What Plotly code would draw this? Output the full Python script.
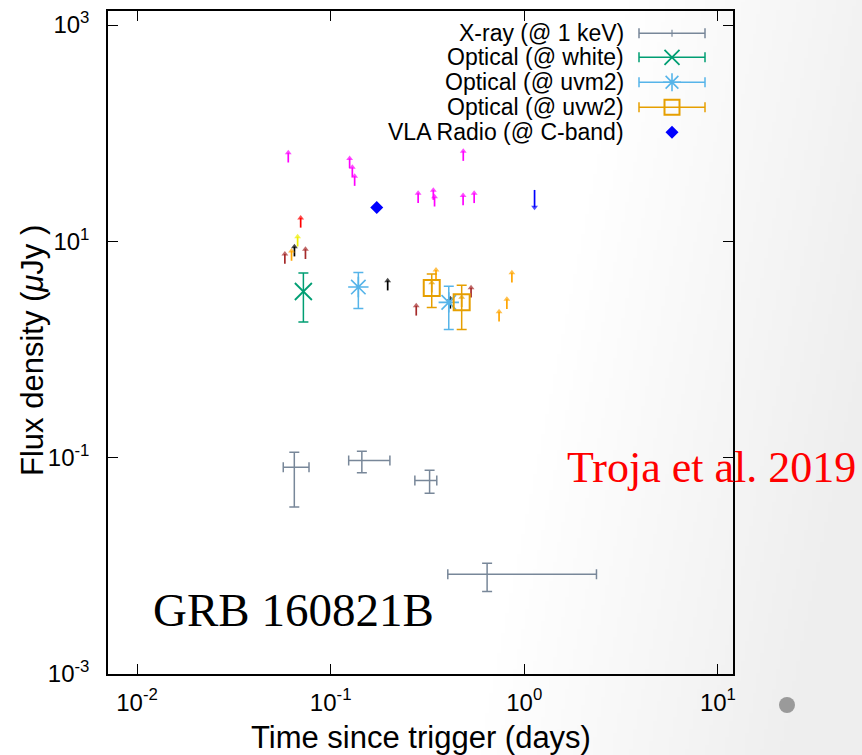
import base64, struct, zlib
import numpy as np
import plotly.graph_objects as go

# ---------------- data ----------------
xray_t    = [0.0649, 0.1449, 0.3243, 0.6427]
xray_t_lo = [0.0569, 0.1239, 0.2722, 0.4027]
xray_t_hi = [0.0773, 0.2023, 0.3533, 2.36]
xray_f    = [0.0817, 0.0942, 0.0615, 0.00835]
xray_f_lo = [0.0350, 0.0726, 0.0470, 0.00578]
xray_f_hi = [0.1124, 0.1148, 0.0767, 0.01055]

white_t, white_f, white_lo, white_hi = [0.0723], [3.44], [1.80], [5.09]
uvm2_t, uvm2_f, uvm2_lo, uvm2_hi = [0.139, 0.4074], [3.78, 2.73], [2.39, 1.53], [5.16, 3.84]
uvw2_t, uvw2_f, uvw2_lo, uvw2_hi = [0.3327, 0.475], [3.70, 2.73], [2.45, 1.53], [4.99, 3.92]

radio_t, radio_f = [0.173], [20.6]
radio_ul_t, radio_ul_f = [1.13], [29.9]

# other-band lower limits (arrow tails), with their colours
lim_t = [0.0604, 0.1253, 0.1294, 0.133, 0.484, 0.283, 0.339, 0.344, 0.483, 0.551,
         0.070, 0.0675, 0.065, 0.0628, 0.058, 0.0741,
         0.197, 0.2767, 0.350, 0.415, 0.531, 0.863, 0.813, 0.741, 0.3327, 0.475]
lim_f = [53.6, 47.5, 39.3, 32.6, 55.5, 22.6, 24.2, 21.0, 21.6, 22.6,
         13.4, 8.97, 7.26, 6.62, 6.21, 6.87,
         3.52, 2.06, 4.42, 2.39, 3.03, 4.17, 2.37, 1.82, 3.37, 2.47]
lim_c = ["magenta"] * 10 + ["red", "#eeee00", "black", "orange", "#a52a2a", "#a52a2a",
         "black", "#a52a2a", "orange", "black", "#a52a2a", "orange", "orange", "orange",
         "#e69f00", "#e69f00"]

legend_labels = ["X-ray (@ 1 keV)", "Optical (@ white)", "Optical (@ uvm2)",
                 "Optical (@ uvw2)", "VLA Radio (@ C-band)"]
x_tickvals = [0.01, 0.1, 1, 10]
x_ticktext = ["10<sup>-2</sup>", "10<sup>-1</sup>", "10<sup>0</sup>", "10<sup>1</sup>"]
y_tickvals = [1e-3, 1e-1, 1e1, 1e3]
y_ticktext = ["10<sup>-3</sup>", "10<sup>-1</sup>", "10<sup>1</sup>", "10<sup>3</sup>"]

# ---------------- style ----------------
C_X, C_W, C_M, C_U, C_R = "#788799", "#009e73", "#56b4e9", "#e69f00", "#0000ff"
SANS = "Liberation Sans, Arial, sans-serif"
SERIF = "Liberation Serif, Times New Roman, serif"
W, H = 862, 755
L, R, T, B = 108, 733, 11, 674
UP_LEN, DOWN_LEN = 0.09, 0.16   # arrow shaft lengths in decades


def err(v, lo, hi):
    v, lo, hi = np.array(v), np.array(lo), np.array(hi)
    return dict(type="data", symmetric=False, array=hi - v, arrayminus=v - lo)


# background gradient (slide backdrop)
def gradient_png(w, h):
    rows = []
    for j in range(h):
        y = j * H / h
        row = bytearray()
        for i in range(w):
            x = i * W / w
            s = min(max((x - 540 + 0.2 * (y - 400)) / 320.0, 0.0), 1.0)
            row.append(int(round(255 - 17 * s)))
        rows.append(b"\x00" + bytes(row))
    raw = zlib.compress(b"".join(rows), 9)

    def chunk(tag, data):
        c = struct.pack(">I", len(data)) + tag + data
        return c + struct.pack(">I", zlib.crc32(tag + data) & 0xffffffff)

    png = b"\x89PNG\r\n\x1a\n" + chunk(b"IHDR", struct.pack(">IIBBBBB", w, h, 8, 0, 0, 0, 0)) \
        + chunk(b"IDAT", raw) + chunk(b"IEND", b"")
    return "data:image/png;base64," + base64.b64encode(png).decode()


fig = go.Figure()


def arrow_trace(ts, fs, color, dlog):
    xs, ys, sz = [], [], []
    for t, f in zip(ts, fs):
        xs += [t, t, None]
        ys += [f, f * 10 ** dlog, None]
        sz += [0, 6, 0]
    return go.Scatter(x=xs, y=ys, mode="lines+markers", line=dict(color=color, width=1.7),
                      marker=dict(symbol="triangle-up", angleref="previous", size=sz, color=color,
                                  line=dict(width=0)),
                      connectgaps=False, hoverinfo="skip")


for c in dict.fromkeys(lim_c):
    sel = [i for i, cc in enumerate(lim_c) if cc == c]
    fig.add_trace(arrow_trace([lim_t[i] for i in sel], [lim_f[i] for i in sel], c, UP_LEN))
fig.add_trace(arrow_trace(radio_ul_t, radio_ul_f, C_R, -DOWN_LEN))

fig.add_trace(go.Scatter(x=xray_t, y=xray_f, mode="markers",
                         marker=dict(size=1, color=C_X),
                         error_x=dict(**err(xray_t, xray_t_lo, xray_t_hi), color=C_X, thickness=1.5, width=5),
                         error_y=dict(**err(xray_f, xray_f_lo, xray_f_hi), color=C_X, thickness=1.5, width=5)))
fig.add_trace(go.Scatter(x=white_t, y=white_f, mode="markers",
                         marker=dict(symbol="x-thin-open", size=17, color=C_W, line=dict(width=1.8, color=C_W)),
                         error_y=dict(**err(white_f, white_lo, white_hi), color=C_W, thickness=1.5, width=5)))
fig.add_trace(go.Scatter(x=uvm2_t, y=uvm2_f, mode="markers",
                         marker=dict(symbol="asterisk-open", size=17, color=C_M, line=dict(width=1.6, color=C_M)),
                         error_y=dict(**err(uvm2_f, uvm2_lo, uvm2_hi), color=C_M, thickness=1.5, width=5)))
fig.add_trace(go.Scatter(x=uvw2_t, y=uvw2_f, mode="markers",
                         marker=dict(symbol="square-open", size=16, color=C_U, line=dict(width=2, color=C_U)),
                         error_y=dict(**err(uvw2_f, uvw2_lo, uvw2_hi), color=C_U, thickness=1.5, width=5)))
fig.add_trace(go.Scatter(x=radio_t, y=radio_f, mode="markers",
                         marker=dict(symbol="diamond", size=10, color=C_R)))

annotations = []

# ---------------- custom legend (text left of sample) ----------------
row_px = [33.3, 57.3, 82.3, 107.3, 132.3]
row_y = [1 - (p - T) / (B - T) for p in row_px]
lx = (672 - L) / (R - L)
lhalf = 33 / (R - L)
for lab, y in zip(legend_labels, row_y):
    annotations.append(dict(x=(626 - L) / (R - L), y=y, xref="paper", yref="paper",
                            xanchor="right", yanchor="middle", showarrow=False, text=lab,
                            font=dict(family=SANS, size=23, color="black")))

leg_style = [
    (C_X, dict(symbol="line-ns-open", size=5, color=C_X, line=dict(width=1.2, color=C_X))),
    (C_W, dict(symbol="x-thin-open", size=15, color=C_W, line=dict(width=1.8, color=C_W))),
    (C_M, dict(symbol="asterisk-open", size=15, color=C_M, line=dict(width=1.6, color=C_M))),
    (C_U, dict(symbol="square-open", size=15, color=C_U, line=dict(width=2, color=C_U))),
    (C_R, dict(symbol="diamond", size=10, color=C_R)),
]
for k, (c, mk) in enumerate(leg_style):
    ex = dict(type="constant", value=lhalf, color=c, thickness=1.5, width=5, visible=k < 4)
    fig.add_trace(go.Scatter(x=[lx], y=[row_y[k]], xaxis="x2", yaxis="y2", mode="markers",
                             marker=mk, error_x=ex, cliponaxis=False))

# titles and labels
annotations += [
    dict(x=(421 - L) / (R - L), y=1 - (737 - T) / (B - T), xref="paper", yref="paper",
         xanchor="center", yanchor="middle", showarrow=False, text="Time since trigger (days)",
         font=dict(family=SANS, size=31, color="black")),
    dict(x=(33 - L) / (R - L), y=1 - (351 - T) / (B - T), xref="paper", yref="paper",
         xanchor="center", yanchor="middle", showarrow=False, textangle=-90,
         text="Flux density (<i>μ</i>Jy )", font=dict(family=SANS, size=31, color="black")),
    dict(x=(565 - L) / (R - L), y=1 - (467 - T) / (B - T), xref="paper", yref="paper",
         xanchor="left", yanchor="middle", showarrow=False, text="Troja et al. 2019",
         font=dict(family=SERIF, size=44, color="red")),
    dict(x=(151 - L) / (R - L), y=1 - (610 - T) / (B - T), xref="paper", yref="paper",
         xanchor="left", yanchor="middle", showarrow=False, text="GRB 160821B",
         font=dict(family=SERIF, size=47, color="black")),
]

pw, ph = R - L, B - T
fig.update_layout(
    width=W, height=H, margin=dict(l=L, r=W - R, t=T, b=H - B, autoexpand=False),
    paper_bgcolor="white", plot_bgcolor="rgba(0,0,0,0)", showlegend=False,
    annotations=annotations,
    images=[dict(source=gradient_png(216, 189), xref="paper", yref="paper",
                 x=-L / pw, y=1 + T / ph, sizex=W / pw, sizey=H / ph,
                 xanchor="left", yanchor="top", sizing="stretch", layer="below")],
    shapes=[dict(type="circle", xref="paper", yref="paper",
                 x0=(779 - L) / pw, x1=(795 - L) / pw,
                 y0=1 - (713 - T) / ph, y1=1 - (697 - T) / ph,
                 fillcolor="#9a9a9a", line=dict(width=0))],
    xaxis=dict(type="log", range=[-2.15, 1.078], showgrid=False, zeroline=False,
               showline=True, mirror="ticks", linecolor="black", linewidth=1.5,
               ticks="inside", ticklen=10, tickwidth=1.2, tickcolor="black",
               tickvals=x_tickvals, ticktext=x_ticktext, ticklabelstandoff=6,
               tickfont=dict(family=SANS, size=24, color="black")),
    yaxis=dict(type="log", range=[-3, 3.13], showgrid=False, zeroline=False,
               showline=True, mirror="ticks", linecolor="black", linewidth=1.5,
               ticks="inside", ticklen=10, tickwidth=1.2, tickcolor="black",
               tickvals=y_tickvals, ticktext=y_ticktext, ticklabelstandoff=12,
               tickfont=dict(family=SANS, size=24, color="black")),
    xaxis2=dict(overlaying="x", range=[0, 1], visible=False, anchor="y2"),
    yaxis2=dict(overlaying="y", range=[0, 1], visible=False, anchor="x2"),
)

fig.write_html("out.html")
